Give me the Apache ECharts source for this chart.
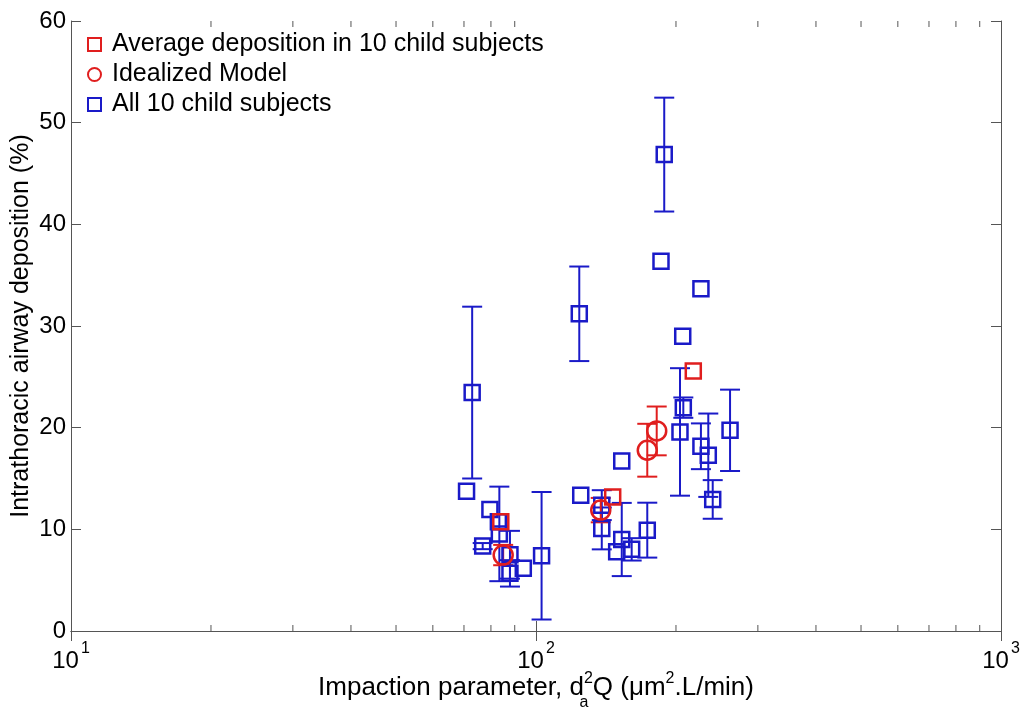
<!DOCTYPE html>
<html>
<head>
<meta charset="utf-8">
<script src="https://cdn.jsdelivr.net/npm/echarts@6/dist/echarts.min.js"></script>
<style>
  html, body { margin: 0; padding: 0; background: #fff; overflow: hidden; width: 1022px; height: 713px; }
  #chart { width: 1022px; height: 713px; }
</style>
</head>
<body>
<div id="chart"></div>
<script>
// Individual child subjects: impaction parameter, deposition (%), error half-width (0 = no bar)
const subjX = [70.9, 72.9, 76.8, 79.6, 83.0, 83.4, 87.9, 87.9, 93.9, 102.8,
               123.9, 124.8, 138.5, 138.5, 149.1, 152.9, 152.9, 160.6, 173.5, 185.7,
               188.7, 204.0, 206.8, 207.4, 226.3, 226.3, 234.7, 239.9, 261.4];
const subjY = [13.75, 23.45, 8.35, 11.95, 10.74, 9.55, 7.5, 5.67, 6.16, 7.4,
               31.2, 13.36, 12.38, 10.09, 7.79, 16.73, 9.0, 8.03, 9.92, 36.38,
               46.86, 19.58, 28.98, 21.97, 33.66, 18.17, 17.29, 12.94, 19.74];
const subjErr = [0, 8.45, 0.3, 0, 0, 4.65, 2.35, 1.3, 0, 6.27,
                 4.65, 0, 1.47, 2.06, 0, 0, 3.6, 1.1, 2.7, 0,
                 5.6, 6.27, 0, 1.0, 0, 2.25, 4.1, 1.9, 4.0];

// Average deposition across the 10 children
const avgX = [84.0, 146.2, 217.9];
const avgY = [10.74, 13.19, 25.57];

// Idealized airway model with error bars
const modelX = [85.0, 137.8, 173.5, 181.8];
const modelY = [7.47, 11.89, 17.78, 19.68];
const modelErr = [1.0, 1.2, 2.6, 2.4];

// Log-axis minor tick values (2..9 in each decade)
const minorTicks = [20, 30, 40, 50, 60, 70, 80, 90, 200, 300, 400, 500, 600, 700, 800, 900];

const BLUE = '#1a1ac8';
const RED = '#e01e1e';
const FONT = "'Liberation Sans', Arial, Helvetica, sans-serif";
const AXIS = '#555';

function zip3(a, b, c) { return a.map((v, i) => [v, b[i], c[i]]); }
function zip2(a, b) { return a.map((v, i) => [v, b[i]]); }

function errorBarRenderer(color) {
  return function (params, api) {
    const x = api.value(0), y = api.value(1), e = api.value(2);
    if (!e) return null;
    const hi = api.coord([x, y + e]);
    const lo = api.coord([x, y - e]);
    const w = 10;
    const st = { stroke: color, lineWidth: 2 };
    return {
      type: 'group',
      children: [
        { type: 'line', shape: { x1: hi[0], y1: hi[1], x2: lo[0], y2: lo[1] }, style: st },
        { type: 'line', shape: { x1: hi[0] - w, y1: hi[1], x2: hi[0] + w, y2: hi[1] }, style: st },
        { type: 'line', shape: { x1: lo[0] - w, y1: lo[1], x2: lo[0] + w, y2: lo[1] }, style: st }
      ]
    };
  };
}

function minorTickRenderer(params, api) {
  const v = api.value(0);
  const p = api.coord([v, 0]);
  const cs = params.coordSys;
  const len = 6;
  const st = { stroke: AXIS, lineWidth: 1 };
  return {
    type: 'group',
    children: [
      { type: 'line', shape: { x1: p[0], y1: cs.y + cs.height, x2: p[0], y2: cs.y + cs.height - len }, style: st },
      { type: 'line', shape: { x1: p[0], y1: cs.y, x2: p[0], y2: cs.y + len }, style: st }
    ]
  };
}

const chart = echarts.init(document.getElementById('chart'));

const axisLine = { show: true, lineStyle: { color: AXIS, width: 1 } };
const axisTick = { show: true, inside: true, length: 10, lineStyle: { color: AXIS } };

chart.setOption({
  animation: false,
  textStyle: { fontFamily: FONT },
  grid: { left: 71, right: 21, top: 21, bottom: 82, containLabel: false, outerBoundsMode: 'none' },
  legend: {
    data: [
      { name: 'Average deposition in 10 child subjects', icon: 'rect' },
      { name: 'Idealized Model', icon: 'circle' },
      { name: 'All 10 child subjects', icon: 'rect' }
    ],
    orient: 'vertical',
    left: 87,
    top: 32,
    padding: 0,
    itemGap: 5,
    itemWidth: 13,
    itemHeight: 13,
    textStyle: { fontSize: 25, color: '#000', fontFamily: FONT, padding: [0, 0, 0, 6] }
  },
  xAxis: [
    {
      type: 'log', logBase: 10, min: 10, max: 1000,
      position: 'bottom',
      axisLine: axisLine,
      axisTick: axisTick,
      splitLine: { show: false },
      axisLabel: {
        color: '#000', margin: 10,
        formatter: function (v) { return '{b|10}{s|' + Math.round(Math.log10(v)) + '}'; },
        rich: {
          b: { fontSize: 24, fontFamily: FONT, color: '#000', verticalAlign: 'bottom' },
          s: { fontSize: 16, fontFamily: FONT, color: '#000', padding: [0, 0, 16, 2], verticalAlign: 'bottom' }
        }
      },
      name: '{t|Impaction parameter, d}{a|a}{s|2}{t|Q (\u03bcm}{s|2}{t|.L/min)}',
      nameLocation: 'middle',
      nameMoveOverlap: false,
      nameGap: 34,
      nameTextStyle: {
        rich: {
          t: { fontSize: 26, fontFamily: FONT, color: '#000' },
          s: { fontSize: 16, fontFamily: FONT, color: '#000', padding: [0, 0, 18, 0] },
          a: { fontSize: 16, fontFamily: FONT, color: '#000', width: 0, padding: [30, 0, 0, 0] }
        }
      }
    },
    {
      type: 'log', logBase: 10, min: 10, max: 1000,
      position: 'top',
      axisLine: axisLine,
      axisTick: axisTick,
      axisLabel: { show: false },
      splitLine: { show: false }
    }
  ],
  yAxis: [
    {
      type: 'value', min: 0, max: 60, interval: 10,
      position: 'left',
      axisLine: axisLine,
      axisTick: axisTick,
      splitLine: { show: false },
      axisLabel: { color: '#000', fontSize: 24, fontFamily: FONT, margin: 5 },
      name: 'Intrathoracic airway deposition (%)',
      nameLocation: 'middle',
      nameMoveOverlap: false,
      nameGap: 37,
      nameTextStyle: { fontSize: 25, color: '#000', fontFamily: FONT }
    },
    {
      type: 'value', min: 0, max: 60, interval: 10,
      position: 'right',
      axisLine: axisLine,
      axisTick: axisTick,
      axisLabel: { show: false },
      splitLine: { show: false }
    }
  ],
  series: [
    {
      type: 'custom',
      renderItem: minorTickRenderer,
      data: minorTicks.map(v => [v]),
      encode: { x: 0 },
      silent: true,
      z: 1
    },
    {
      type: 'custom',
      renderItem: errorBarRenderer(BLUE),
      data: zip3(subjX, subjY, subjErr),
      encode: { x: 0, y: 1 },
      silent: true,
      z: 2
    },
    {
      type: 'custom',
      renderItem: errorBarRenderer(RED),
      data: zip3(modelX, modelY, modelErr),
      encode: { x: 0, y: 1 },
      silent: true,
      z: 2
    },
    {
      name: 'All 10 child subjects',
      type: 'scatter',
      symbol: 'rect',
      symbolSize: 15,
      data: zip2(subjX, subjY),
      itemStyle: { color: 'rgba(0,0,0,0)', borderColor: BLUE, borderWidth: 2.5, opacity: 1 },
      z: 3
    },
    {
      name: 'Average deposition in 10 child subjects',
      type: 'scatter',
      symbol: 'rect',
      symbolSize: 15,
      data: zip2(avgX, avgY),
      itemStyle: { color: 'rgba(0,0,0,0)', borderColor: RED, borderWidth: 2.5, opacity: 1 },
      z: 3
    },
    {
      name: 'Idealized Model',
      type: 'scatter',
      symbol: 'circle',
      symbolSize: 19,
      data: zip2(modelX, modelY),
      itemStyle: { color: 'rgba(0,0,0,0)', borderColor: RED, borderWidth: 2.5, opacity: 1 },
      z: 4
    }
  ]
});
</script>
</body>
</html>
